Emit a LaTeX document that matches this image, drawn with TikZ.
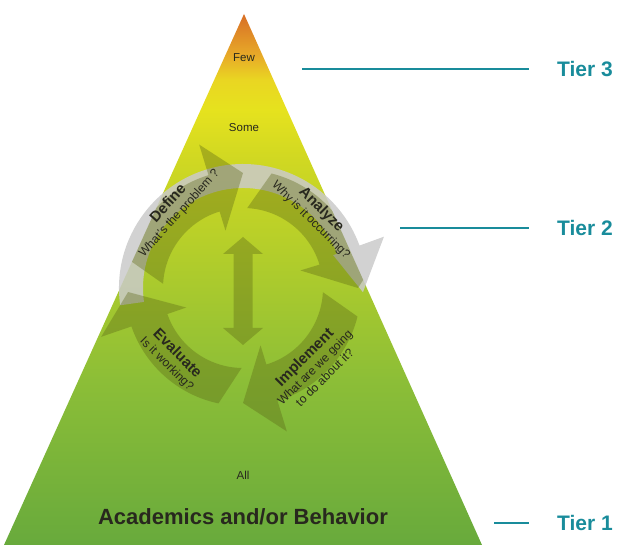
\documentclass[tikz,border=0pt]{standalone}
\usepackage{fontspec}
\setmainfont{Liberation Sans}
\usetikzlibrary{positioning}

\definecolor{pyrA}{RGB}{104,170,60}
\definecolor{pyrB}{RGB}{140,190,55}
\definecolor{pyrC}{RGB}{180,206,42}
\definecolor{pyrD}{RGB}{208,216,34}
\definecolor{pyrE}{RGB}{230,226,30}
\definecolor{pyrF}{RGB}{233,214,34}
\definecolor{pyrG}{RGB}{232,172,40}
\definecolor{pyrH}{RGB}{216,110,38}
\pgfdeclareverticalshading{pyramid}{100bp}{color(0bp)=(pyrA); color(25bp)=(pyrA);
  color(40.5bp)=(pyrB); color(52.8bp)=(pyrC); color(61.3bp)=(pyrD); color(66bp)=(pyrE);
  color(68.8bp)=(pyrF); color(71bp)=(pyrG); color(75bp)=(pyrH); color(100bp)=(pyrH)}

\begin{document}
\begin{tikzpicture}[x=1pt,y=1pt,
  cyc/.style={fill=cycfill,fill opacity=0.36},
  greyarc/.style={fill=arcgrey,fill opacity=0.85},
  steptxt/.style={align=center,text=inktext,inner sep=0pt,
    font=\fontsize{12}{14}\selectfont},
  lvl/.style={text=inktext,inner sep=0pt,font=\fontsize{11.5}{12}\selectfont},
  tier/.style={text=tealtxt,inner sep=0pt,anchor=west,
    font=\fontsize{21}{21}\selectfont\bfseries},
  tierline/.style={draw=tealtxt,line width=1.1pt,shorten >=28pt}]

\definecolor{cycfill}{RGB}{90,100,20}
\definecolor{arcgrey}{RGB}{202,202,202}
\definecolor{inktext}{RGB}{40,40,30}
\definecolor{tealtxt}{RGB}{25,140,155}

\useasboundingbox (0,0) rectangle (619,545);

\coordinate (apex) at (244,531);
\coordinate (bl) at (4,0);
\coordinate (br) at (482,0);
\coordinate (ctr) at (243,257);

\shade[shading=pyramid] (bl) -- (br) -- (apex) -- cycle;

% grey arc behind the cycle
\begin{scope}[shift={(ctr)}]
\fill[greyarc] (188:124) arc[start angle=188,end angle=20,radius=124]
  -- (20:150) -- (-2:120) -- (20:96) -- (20:100)
  arc[start angle=20,end angle=188,radius=100] -- cycle;
\end{scope}

% the four steps, cut to the pyramid
\begin{scope}
\clip (bl) -- (br) -- (apex) -- cycle;
\begin{scope}[shift={(ctr)}]
\foreach \b in {107,17,-73,-161}{
  \fill[cyc] (\b+59:118) arc[start angle=\b+59,end angle=\b,radius=118]
    -- (\b:150) -- (\b-17:115) -- (\b:60) -- (\b:80)
    arc[start angle=\b,end angle=\b+70,radius=80] -- cycle;
}
\fill[cyc] (0,51) -- (20,34) -- (9.5,34) -- (9.5,-40) -- (20,-40) -- (0,-57)
  -- (-20,-40) -- (-9.5,-40) -- (-9.5,34) -- (-20,34) -- cycle;
\end{scope}
\end{scope}

\begin{scope}[shift={(ctr)}]
\node[steptxt,rotate=48] (define) at (131:106)
  {{\fontsize{15}{15}\selectfont\bfseries Define}\\What's the problem ?};
\node[steptxt,rotate=-45] (analyze) at (45:104)
  {{\fontsize{15}{15}\selectfont\bfseries Analyze}\\Why is it occurring?};
\node[steptxt,rotate=45] (implement) at (-48:106)
  {{\fontsize{15}{15}\selectfont\bfseries Implement}\\What are we going\\to do about it?};
\node[steptxt,rotate=-45] (evaluate) at (225:100)
  {{\fontsize{15}{15}\selectfont\bfseries Evaluate}\\Is it working?};
\end{scope}

\node[lvl] (few) at (244,487) {Few};
\node[lvl] (some) at (244,417) {Some};
\node[lvl] (all) at (243,70) {All};
\node[text=inktext,inner sep=0pt,font=\fontsize{22}{22}\selectfont\bfseries]
  (acad) at (243,28) {Academics and/or Behavior};

\node[tier] (tier3) at (557,476) {Tier 3};
\node[tier] (tier2) at (557,317) {Tier 2};
\node[tier] (tier1) at (557,22) {Tier 1};
\coordinate (t3a) at (302,476);
\coordinate (t2a) at (400,317);
\coordinate (t1a) at (494,22);
\draw[tierline] (t3a) -- (tier3.west);
\draw[tierline] (t2a) -- (tier2.west);
\draw[tierline] (t1a) -- (tier1.west);

\end{tikzpicture}
\end{document}
